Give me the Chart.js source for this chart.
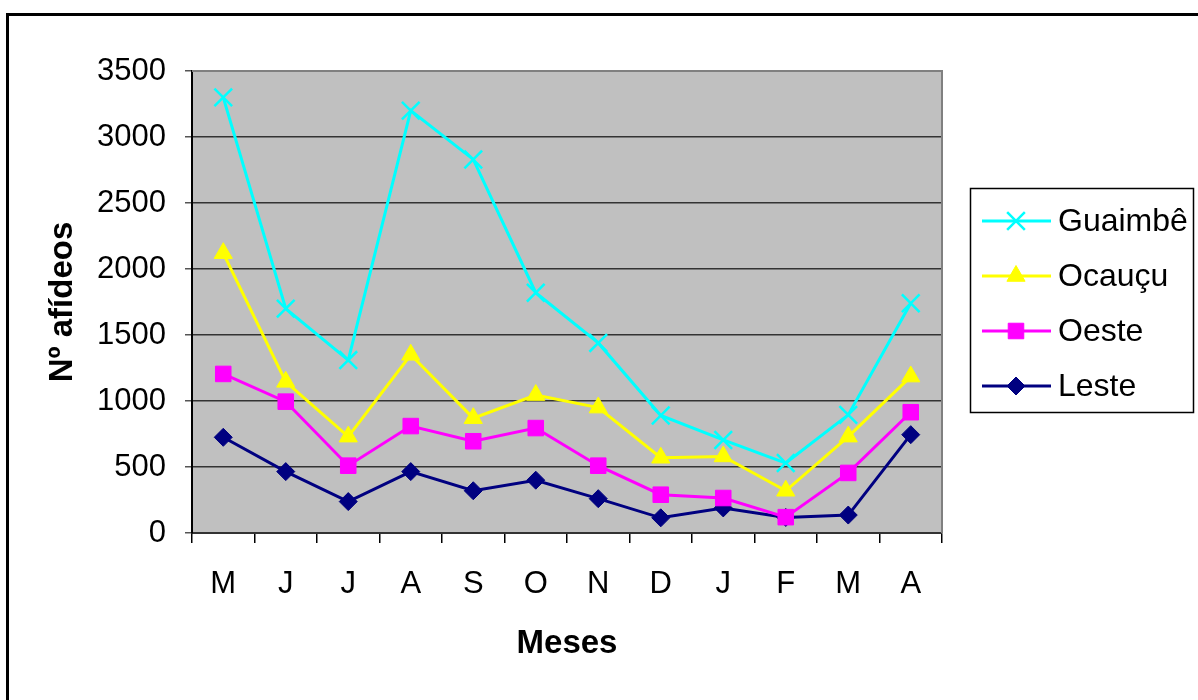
<!DOCTYPE html>
<html>
<head>
<meta charset="utf-8">
<script src="https://cdn.jsdelivr.net/npm/chart.js@4/dist/chart.umd.min.js"></script>
<style>
  html, body { margin: 0; padding: 0; background: #fff; }
  #wrap { width: 1198px; height: 700px; }
</style>
</head>
<body>
<div id="wrap"><canvas id="c" width="1198" height="700"></canvas></div>
<script>
// Monthly aphid counts per site
const months = ['M', 'J', 'J', 'A', 'S', 'O', 'N', 'D', 'J', 'F', 'M', 'A'];
const guaimbe = [3300, 1700, 1310, 3200, 2830, 1820, 1440, 890, 705, 530, 895, 1740];
const ocaucu = [2120, 1145, 730, 1350, 870, 1045, 950, 570, 580, 320, 730, 1185];
const oeste = [1205, 995, 510, 810, 695, 795, 510, 290, 265, 120, 455, 915];
const leste = [725, 465, 238, 465, 320, 400, 260, 115, 190, 118, 136, 745];
const yTicks = [0, 500, 1000, 1500, 2000, 2500, 3000, 3500];

const FONT = "'Liberation Sans', Arial, sans-serif";

// Grey plot panel, outer frame and panel border
const frame = {
  id: 'frame',
  beforeDraw(chart) {
    const { ctx, chartArea: a } = chart;
    ctx.save();
    ctx.fillStyle = '#fff';
    ctx.fillRect(0, 0, chart.width, chart.height);
    ctx.fillStyle = '#C0C0C0';
    ctx.fillRect(a.left, a.top, a.right - a.left, a.bottom - a.top);
    ctx.strokeStyle = '#000';
    ctx.lineWidth = 3;
    ctx.strokeRect(7.5, 14.5, 1400, 900);
    ctx.restore();
  },
  afterDatasetsDraw(chart) {
    const { ctx, chartArea: a } = chart;
    ctx.save();
    ctx.strokeStyle = '#808080';
    ctx.lineWidth = 2;
    ctx.beginPath();
    ctx.moveTo(a.left, a.top);
    ctx.lineTo(a.right, a.top);
    ctx.lineTo(a.right, a.bottom);
    ctx.stroke();
    ctx.restore();
  }
};

// Boxed legend on the right: line sample + marker + name
const boxLegend = {
  id: 'boxLegend',
  afterDraw(chart) {
    const { ctx } = chart;
    const bx = 970, by = 188, bw = 223, bh = 224;
    ctx.save();
    ctx.fillStyle = '#fff';
    ctx.fillRect(bx, by, bw, bh);
    ctx.strokeStyle = '#000';
    ctx.lineWidth = 1.5;
    ctx.strokeRect(bx + 0.5, by + 0.5, bw, bh);
    const rows = [221, 276, 331, 386];
    chart.data.datasets.forEach((ds, i) => {
      const y = rows[i];
      ctx.strokeStyle = ds.borderColor;
      ctx.lineWidth = 3;
      ctx.beginPath();
      ctx.moveTo(982, y);
      ctx.lineTo(1051, y);
      ctx.stroke();
      ctx.fillStyle = ds.pointBackgroundColor;
      ctx.strokeStyle = ds.pointBorderColor;
      ctx.lineWidth = ds.pointBorderWidth;
      Chart.helpers.drawPoint(ctx, { pointStyle: ds.pointStyle, radius: ds.pointRadius, borderWidth: ds.pointBorderWidth, rotation: 0 }, 1016, y);
      ctx.fillStyle = '#000';
      ctx.font = '32px ' + FONT;
      ctx.textAlign = 'left';
      ctx.textBaseline = 'middle';
      ctx.fillText(ds.label, 1058, y + 1);
    });
    ctx.restore();
  }
};

function series(label, data, color, style, radius, bw) {
  return {
    label, data,
    borderColor: color,
    borderWidth: 3,
    pointStyle: style,
    pointRadius: radius,
    pointHoverRadius: radius,
    pointBackgroundColor: color,
    pointBorderColor: color,
    pointBorderWidth: bw,
    tension: 0,
    fill: false
  };
}

new Chart(document.getElementById('c'), {
  type: 'line',
  data: {
    labels: months,
    datasets: [
      series('Guaimbê', guaimbe, '#00FFFF', 'crossRot', 12.5, 2.5),
      series('Ocauçu', ocaucu, '#FFFF00', 'triangle', 10.5, 1),
      series('Oeste', oeste, '#FF00FF', 'rect', 11, 1),
      series('Leste', leste, '#000080', 'rectRot', 9, 1)
    ]
  },
  options: {
    responsive: false,
    animation: false,
    devicePixelRatio: 1,
    layout: { padding: { left: 0, right: 256, top: 71, bottom: 0 } },
    plugins: { legend: { display: false }, tooltip: { enabled: false } },
    scales: {
      x: {
        type: 'category',
        offset: true,
        afterFit(s) { s.height = 167; },
        grid: { offset: true, drawOnChartArea: false, drawTicks: true, tickLength: 10, color: '#000', lineWidth: 1.5 },
        border: { color: '#333', width: 2 },
        ticks: { color: '#000', padding: 23, font: { family: FONT, size: 31 }, maxRotation: 0, autoSkip: false },
        title: { display: true, text: 'Meses', color: '#000', font: { family: FONT, size: 33, weight: 'bold' }, padding: { top: 0, bottom: 36 } }
      },
      y: {
        min: 0, max: 3500,
        afterFit(s) { s.width = 192; },
        afterBuildTicks(s) { s.ticks = yTicks.map(v => ({ value: v })); },
        grid: { color: '#333', lineWidth: 1.5, tickLength: 7, tickColor: '#555' },
        border: { color: '#000', width: 2 },
        ticks: { color: '#000', padding: 19, font: { family: FONT, size: 31 }, callback: v => String(v) },
        title: { display: true, text: 'Nº afídeos', color: '#000', font: { family: FONT, size: 33, weight: 'bold' }, padding: { top: 43, bottom: 0 } }
      }
    }
  },
  plugins: [frame, boxLegend]
});
</script>
</body>
</html>
